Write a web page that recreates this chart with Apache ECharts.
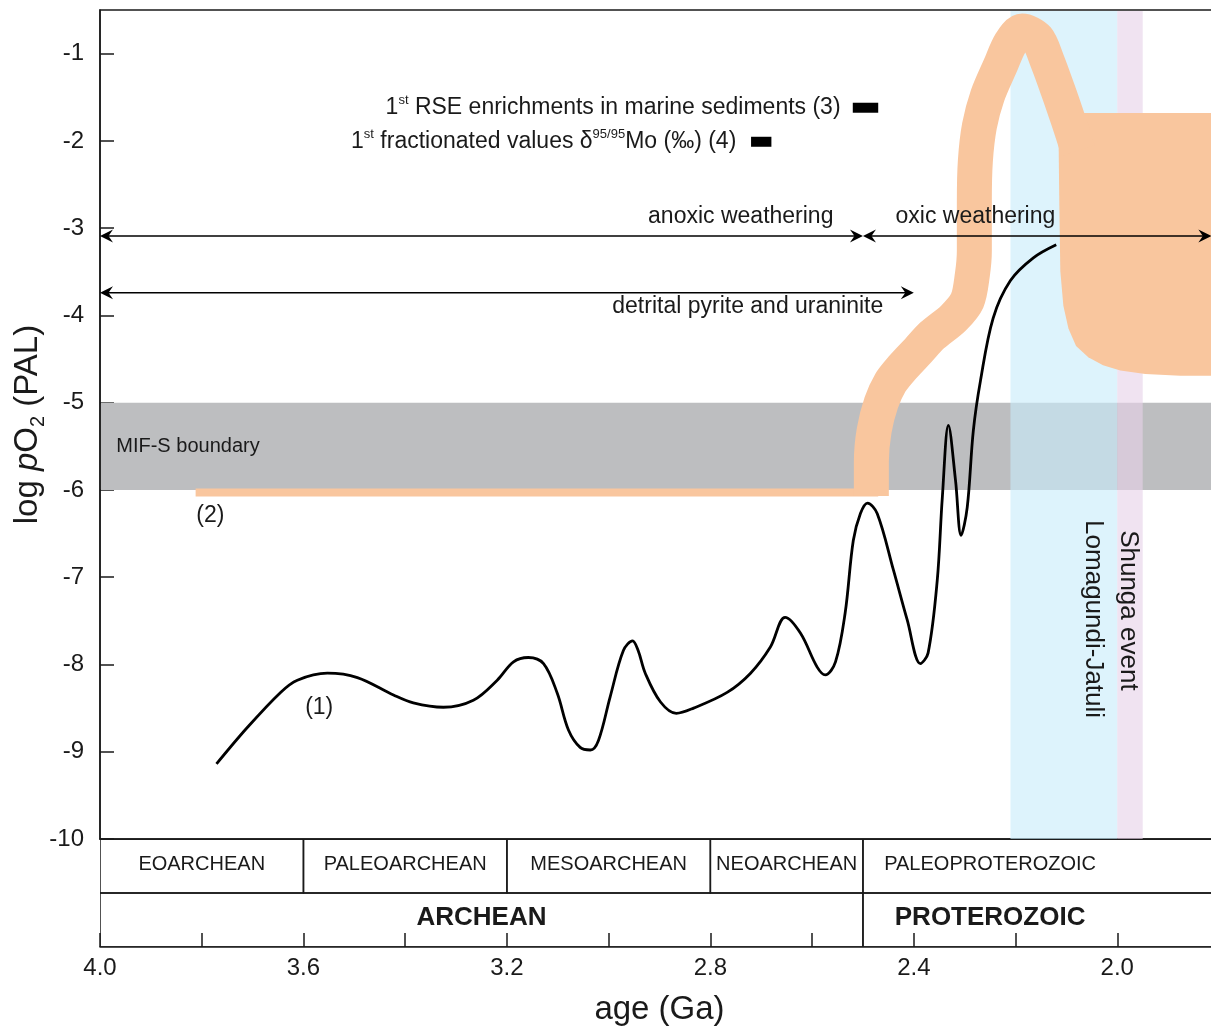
<!DOCTYPE html>
<html><head><meta charset="utf-8">
<script src="https://cdn.jsdelivr.net/npm/echarts@6/dist/echarts.min.js"></script>
<style>html,body{margin:0;padding:0;background:#fff}#c{width:1211px;height:1028px}</style>
</head><body><div id="c"></div>
<script>
// ---------------- data ----------------
// (1) black curve: age (Ga), log pO2
const curveAge = [3.771,3.710,3.645,3.612,3.553,3.494,3.423,3.384,3.325,3.266,3.219,3.187,3.158,3.128,3.101,3.079,3.056,3.036,3.020,2.997,2.971,2.953,2.942,2.928,2.898,2.867,2.833,2.767,2.721,2.682,2.653,2.623,2.590,2.574,2.554,2.535,2.519,2.505,2.491,2.472,2.440,2.413,2.387,2.372,2.354,2.344,2.332,2.318,2.307,2.295,2.283,2.269,2.244,2.210,2.165,2.120];
const curveVal = [-9.14,-8.72,-8.32,-8.18,-8.10,-8.15,-8.35,-8.44,-8.49,-8.41,-8.18,-7.97,-7.92,-7.99,-8.33,-8.75,-8.95,-8.98,-8.87,-8.37,-7.84,-7.73,-7.84,-8.10,-8.43,-8.56,-8.50,-8.32,-8.10,-7.80,-7.46,-7.64,-8.03,-8.12,-7.97,-7.41,-6.58,-6.27,-6.15,-6.27,-6.92,-7.49,-7.99,-7.87,-7.04,-6.09,-5.26,-5.89,-6.52,-6.20,-5.32,-4.75,-4.03,-3.60,-3.34,-3.19];

// (2) orange: flat Archean level, ribbon (GOE rise/overshoot), plateau blob
const flatAge = [3.812, 2.47];
const flatVal = [-6.03, -6.03];
const ribbonAge = [2.4835,2.4835,2.478,2.464,2.446,2.423,2.391,2.364,2.322,2.295,2.285,2.281,2.281,2.279,2.271,2.255,2.230,2.210,2.187,2.157,2.138,2.116,2.096,2.077];
const ribbonVal = [-6.07,-5.68,-5.32,-5.00,-4.77,-4.60,-4.40,-4.23,-4.03,-3.83,-3.54,-3.26,-2.69,-2.23,-1.83,-1.48,-1.14,-0.88,-0.74,-0.83,-1.08,-1.43,-1.77,-2.11];
const blobAge = [2.116,1.778,1.778,1.876,1.945,1.994,2.028,2.057,2.081,2.096,2.106,2.112,2.114];
const blobVal = [-1.68,-1.68,-4.69,-4.69,-4.67,-4.63,-4.57,-4.48,-4.35,-4.15,-3.89,-3.49,-2.69];

// horizontal band (MIF-S boundary), log pO2 range
const mifBand = [-6, -5];
// vertical event bands (age ranges)
const eventNames = ['Lomagundi-Jatuli', 'Shunga event'];
const eventStart = [2.21, 2.00];
const eventEnd = [2.00, 1.95];

// range arrows: [startAge, endAge, log pO2]
const arrowNames = ['anoxic weathering', 'oxic weathering', 'detrital pyrite and uraninite'];
const arrowStart = [4.0, 2.50, 4.0];
const arrowEnd = [2.50, 1.815, 2.40];
const arrowVal = [-3.09, -3.09, -3.74];

// first-occurrence bars: [startAge, endAge, log pO2]
const barStart = [2.52, 2.72];
const barEnd = [2.47, 2.68];
const barVal = [-1.62, -2.01];

// geologic time scale
const eraNames = ['EOARCHEAN', 'PALEOARCHEAN', 'MESOARCHEAN', 'NEOARCHEAN', 'PALEOPROTEROZOIC'];
const eraStart = [4.0, 3.6, 3.2, 2.8, 2.5];
const eraEnd = [3.6, 3.2, 2.8, 2.5, 1.6];
const eonNames = ['ARCHEAN', 'PROTEROZOIC'];
const eonStart = [4.0, 2.5];
const eonEnd = [2.5, 1.6];

// ---------------- style / layout ----------------
const FONT = '"Liberation Sans", Arial, Helvetica, sans-serif';
const INK = '#1a1a1a';
const ORANGE = '#f9c69e';
const LABEL_CLIP_AGE = 2.0; // table labels centred on the part of the cell up to 2.0 Ga

const zip = (a, b) => a.map((v, i) => [v, b[i]]);

const sup = {fontSize: 13, fontFamily: FONT, fill: INK, lineHeight: 14, verticalAlign: 'top'};
const nrm = {fontSize: 23, fontFamily: FONT, fill: INK, lineHeight: 28};

// annotation texts with their anchor (age, log pO2)
const texts = [
  {t: '{n|1}{s|st}{n| RSE enrichments in marine sediments (3)}', a: 2.544, v: -1.62, align: 'right', rich: true},
  {t: '{n|1}{s|st}{n| fractionated values δ}{s|95/95}{n|Mo (‰) (4)}', a: 2.749, v: -2.01, align: 'right', rich: true},
  {t: arrowNames[0], a: 2.558, v: -2.87, align: 'right'},
  {t: arrowNames[1], a: 2.436, v: -2.87, align: 'left'},
  {t: arrowNames[2], a: 2.460, v: -3.90, align: 'right'},
  {t: 'MIF-S boundary', a: 3.968, v: -5.50, align: 'left', size: 20},
  {t: '(1)', a: 3.569, v: -8.50, align: 'center'},
  {t: '(2)', a: 3.783, v: -6.29, align: 'center'},
  {t: eventNames[0], a: 2.047, v: -7.48, align: 'center', size: 26, rot: true},
  {t: eventNames[1], a: 1.978, v: -7.38, align: 'center', size: 26, rot: true}
];

const cells = [];
eraNames.forEach((n, i) => cells.push({name: n, s: eraStart[i], e: eraEnd[i], row: 1}));
eonNames.forEach((n, i) => cells.push({name: n, s: eonStart[i], e: eonEnd[i], row: 0}));

function arrowHead(tip, dir) {
  const L = 13, W = 6.5, N = 4.5;
  return {type: 'polygon', shape: {points: [
    [tip[0], tip[1]], [tip[0] - dir * L, tip[1] - W], [tip[0] - dir * (L - N), tip[1]], [tip[0] - dir * L, tip[1] + W]
  ]}, style: {fill: '#000'}};
}

const chart = echarts.init(document.getElementById('c'), null, {renderer: 'canvas'});

const option = {
  animation: false,
  backgroundColor: '#fff',
  grid: [
    {left: 100, right: -8, top: 10, height: 829, show: true, borderColor: INK, borderWidth: 1.5,
     backgroundColor: 'transparent', outerBoundsMode: 'none', containLabel: false},
    {left: 100, right: -8, top: 839, height: 108, outerBoundsMode: 'none', containLabel: false}
  ],
  xAxis: [
    {gridIndex: 0, type: 'value', min: 1.8, max: 4.0, inverse: true, interval: 0.2,
     axisLine: {show: true, onZero: false, lineStyle: {color: INK, width: 1.5}},
     axisTick: {show: false}, axisLabel: {show: false}, splitLine: {show: false}},
    {gridIndex: 1, type: 'value', min: 1.8, max: 4.0, inverse: true, interval: 0.2,
     axisLine: {show: true, onZero: false, lineStyle: {color: INK, width: 1.5}},
     axisTick: {show: true, inside: true, length: 14, lineStyle: {color: INK, width: 1.5}},
     axisLabel: {fontSize: 24, fontFamily: FONT, color: INK, margin: 9,
       formatter: v => (Math.round(v * 10) % 4 === 0 ? v.toFixed(1) : '')},
     splitLine: {show: false},
     name: 'age (Ga)', nameLocation: 'middle', nameGap: 46, nameMoveOverlap: false,
     nameTextStyle: {fontSize: 33, fontFamily: FONT, color: INK}}
  ],
  yAxis: [
    {gridIndex: 0, type: 'value', min: -10, max: -0.5, interval: 1,
     axisLine: {show: true, onZero: false, lineStyle: {color: INK, width: 1.5}},
     axisTick: {show: true, inside: true, length: 14, lineStyle: {color: INK, width: 1.5}},
     axisLabel: {fontSize: 24, fontFamily: FONT, color: INK, margin: 16, showMaxLabel: false},
     splitLine: {show: false},
     name: '{n|log }{i|p}{n|O}{s|2}{n| (PAL)}', nameLocation: 'middle', nameGap: 52, nameRotate: 90,
     nameMoveOverlap: false,
     nameTextStyle: {rich: {
       n: {fontSize: 33, fontFamily: FONT, color: INK, lineHeight: 40},
       i: {fontSize: 33, fontFamily: FONT, fontStyle: 'italic', color: INK, lineHeight: 40},
       s: {fontSize: 20, fontFamily: FONT, color: INK, lineHeight: 20, verticalAlign: 'bottom'}
     }}},
    {gridIndex: 1, type: 'value', min: 0, max: 2, show: false}
  ],
  series: [
    { // MIF-S band
      type: 'custom', xAxisIndex: 0, yAxisIndex: 0, z: 1, silent: true,
      data: [mifBand],
      renderItem(params, api) {
        const cs = params.coordSys;
        const y0 = api.coord([3, api.value(1)])[1], y1 = api.coord([3, api.value(0)])[1];
        return {type: 'rect', shape: {x: cs.x + 1, y: y0, width: cs.width, height: y1 - y0}, style: {fill: '#bdbec0'}};
      }
    },
    { // event bands
      type: 'custom', xAxisIndex: 0, yAxisIndex: 0, z: 2, silent: true,
      data: zip(eventStart, eventEnd),
      renderItem(params, api) {
        const cs = params.coordSys;
        const x0 = api.coord([api.value(0), -5])[0], x1 = api.coord([api.value(1), -5])[0];
        const fills = ['rgba(200,235,250,0.62)', 'rgba(230,210,233,0.62)'];
        return {type: 'rect', shape: {x: x0, y: cs.y + 1, width: x1 - x0, height: cs.height - 1}, style: {fill: fills[params.dataIndex]}};
      }
    },
    { // flat orange line (2)
      type: 'line', xAxisIndex: 0, yAxisIndex: 0, z: 3, silent: true, symbol: 'none',
      data: zip(flatAge, flatVal), lineStyle: {color: ORANGE, width: 8, cap: 'butt'}
    },
    { // plateau blob
      type: 'custom', xAxisIndex: 0, yAxisIndex: 0, z: 3, silent: true, clip: true,
      data: [[blobAge[0], blobVal[0]]],
      renderItem(params, api) {
        const pts = blobAge.map((a, i) => api.coord([a, blobVal[i]]));
        return {type: 'polygon', shape: {points: pts}, style: {fill: ORANGE}};
      }
    },
    { // ribbon
      type: 'line', xAxisIndex: 0, yAxisIndex: 0, z: 4, silent: true, symbol: 'none', smooth: 0.3,
      data: zip(ribbonAge, ribbonVal), lineStyle: {color: ORANGE, width: 35, cap: 'butt', join: 'round'}
    },
    { // black curve (1)
      type: 'line', xAxisIndex: 0, yAxisIndex: 0, z: 5, silent: true, symbol: 'none', smooth: 0.35,
      data: zip(curveAge, curveVal), lineStyle: {color: '#000', width: 2.8}
    },
    { // first-occurrence bars
      type: 'custom', xAxisIndex: 0, yAxisIndex: 0, z: 5, silent: true,
      data: barStart.map((s, i) => [s, barEnd[i], barVal[i]]),
      renderItem(params, api) {
        const p0 = api.coord([api.value(0), api.value(2)]), p1 = api.coord([api.value(1), api.value(2)]);
        return {type: 'rect', shape: {x: p0[0], y: p0[1] - 5, width: p1[0] - p0[0], height: 10}, style: {fill: '#000'}};
      }
    },
    { // arrows
      type: 'custom', xAxisIndex: 0, yAxisIndex: 0, z: 6, silent: true, clip: false,
      data: arrowStart.map((s, i) => [s, arrowEnd[i], arrowVal[i]]),
      renderItem(params, api) {
        const p0 = api.coord([api.value(0), api.value(2)]), p1 = api.coord([api.value(1), api.value(2)]);
        return {type: 'group', children: [
          {type: 'line', shape: {x1: p0[0] + 4, y1: p0[1], x2: p1[0] - 4, y2: p1[1]}, style: {stroke: '#000', lineWidth: 1.6}},
          arrowHead(p0, -1), arrowHead(p1, 1)
        ]};
      }
    },
    { // annotation texts
      type: 'custom', xAxisIndex: 0, yAxisIndex: 0, z: 7, silent: true, clip: false,
      data: texts.map(t => [t.a, t.v]),
      renderItem(params, api) {
        const t = texts[params.dataIndex];
        const p = api.coord([api.value(0), api.value(1)]);
        const style = {text: t.t, align: t.align, verticalAlign: 'middle', fill: INK,
          fontSize: t.size || 23, fontFamily: FONT};
        if (t.rich) style.rich = {n: nrm, s: sup};
        const el = {type: 'text', x: p[0], y: p[1], style};
        if (t.rot) el.rotation = -Math.PI / 2;
        return el;
      }
    },
    { // time-scale table
      type: 'custom', xAxisIndex: 1, yAxisIndex: 1, z: 3, silent: true, clip: true,
      data: cells.map(c => [c.s, c.e, c.row]),
      renderItem(params, api) {
        const c = cells[params.dataIndex];
        const p0 = api.coord([c.s, c.row + 1]), p1 = api.coord([c.e, c.row]);
        const pm = api.coord([(c.s + Math.max(c.e, LABEL_CLIP_AGE)) / 2, c.row + 0.5]);
        const eon = c.row === 0;
        return {type: 'group', children: [
          {type: 'rect', shape: {x: p0[0], y: p0[1], width: p1[0] - p0[0], height: p1[1] - p0[1]},
           style: {fill: null, stroke: INK, lineWidth: 1.5}},
          {type: 'text', x: pm[0], y: pm[1] - 2, style: {text: c.name, align: 'center', verticalAlign: 'middle', fill: INK,
            fontSize: eon ? 26 : 20, fontWeight: eon ? 'bold' : 'normal', fontFamily: FONT}}
        ]};
      }
    }
  ]
};
chart.setOption(option);
</script>
</body></html>
